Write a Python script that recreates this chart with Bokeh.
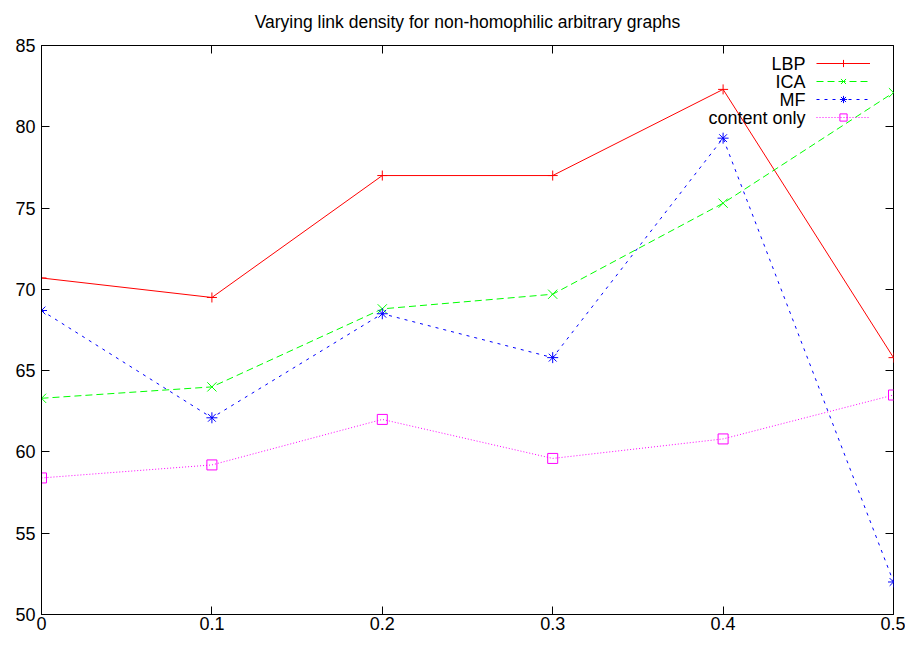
from bokeh.plotting import figure
from bokeh.models import (Range1d, LinearAxis, FixedTicker, Legend, LegendItem, Label,
                          CustomLabelingPolicy)
from bokeh.embed import file_html
from bokeh.resources import INLINE

# ---- data ----
densities = [0, 0.1, 0.2, 0.3, 0.4, 0.5]
lbp = [70.7, 69.5, 77.0, 77.0, 82.3, 65.8]
ica = [63.3, 64.0, 68.8, 69.7, 75.3, 82.1]
mf = [68.7, 62.1, 68.5, 65.8, 79.3, 52.0]
content_only = [58.4, 59.2, 62.0, 59.6, 60.8, 63.5]
series_names = ["LBP", "ICA", "MF", "content only"]
x_ticks = [0, 0.1, 0.2, 0.3, 0.4, 0.5]
x_tick_labels = ["0", "0.1", "0.2", "0.3", "0.4", "0.5"]
y_ticks = [50, 55, 60, 65, 70, 75, 80, 85]
title_text = "Varying link density for non-homophilic arbitrary graphs"

FONT = "Liberation Sans"
FS = "18px"
W, H = 905, 634
BL, BR, BT, BB = 41, 12, 44, 20
FW, FH = W - BL - BR, H - BT - BB
Y0, Y1 = 50, 85
X0, X1 = 0, 0.5

p = figure(width=W, height=H, x_range=Range1d(X0, X1), y_range=Range1d(Y0, Y1),
           output_backend="svg", toolbar_location=None,
           min_border_left=BL, min_border_right=BR, min_border_top=BT, min_border_bottom=BB,
           title=title_text)
p.title.align = "center"
p.title.text_font = FONT
p.title.text_font_size = "17.5px"
p.title.text_font_style = "normal"
p.title.text_color = "black"
p.title.standoff = 19

p.grid.visible = False
p.outline_line_color = "black"
p.outline_line_width = 1

for ax in (p.xaxis[0], p.yaxis[0]):
    ax.major_tick_in = 8
    ax.major_tick_out = 0
    ax.minor_tick_line_color = None
    ax.axis_line_color = "black"
    ax.major_tick_line_color = "black"
    ax.major_label_text_font = FONT
    ax.major_label_text_font_size = FS
    ax.major_label_text_color = "black"

p.xaxis.ticker = FixedTicker(ticks=x_ticks)
p.xaxis.major_label_overrides = {t: l for t, l in zip(x_ticks, x_tick_labels)}
p.xaxis.major_label_standoff = 2
p.yaxis.ticker = FixedTicker(ticks=y_ticks)
p.yaxis.major_label_standoff = 6

# mirrored ticks (top / right), no labels
mirror_kw = dict(major_tick_in=8, major_tick_out=0, minor_tick_line_color=None,
                 axis_line_color=None, major_label_standoff=0,
                 major_label_text_font_size="1px", axis_label_standoff=0,
                 axis_label_text_font_size="1px")
top_ax = LinearAxis(ticker=FixedTicker(ticks=x_ticks),
                    major_label_policy=CustomLabelingPolicy(code="return []"), **mirror_kw)
right_ax = LinearAxis(ticker=FixedTicker(ticks=y_ticks),
                      major_label_policy=CustomLabelingPolicy(code="return []"), **mirror_kw)
p.add_layout(top_ax, "above")
p.add_layout(right_ax, "right")

styles = [
    (lbp, "#ff0000", "solid", "cross", 10),
    (ica, "#00ff00", "7 4", "x", 13),
    (mf, "#0000ff", "3 5", "asterisk", 11),
    (content_only, "#ff00ff", "1 2", "square", 10),
]

items = []
for (vals, color, dash, marker, msize), name in zip(styles, series_names):
    lr = p.line(densities, vals, line_color=color, line_width=1, line_dash=dash)
    sr = p.scatter(densities, vals, marker=marker, size=msize, line_color=color,
                   fill_color=None, line_width=1)
    items.append(LegendItem(label="", renderers=[lr, sr]))

ROW = 18
LEG_TOP = 9.7  # px below frame top
GW = 54
LEG_X = FW - 77
legend = Legend(items=items, location=(LEG_X, FH - LEG_TOP - ROW * len(items)),
                glyph_width=GW, glyph_height=ROW, label_height=ROW, label_width=0,
                label_standoff=0, label_text_font_size="1px",
                spacing=0, padding=0, margin=0, border_line_color=None,
                background_fill_alpha=0)
p.add_layout(legend, "center")

# legend texts, right-aligned to the left of the samples
px_per_y = FH / (Y1 - Y0)
x_text = X0 + (LEG_X - 11) / FW * (X1 - X0)
for k, name in enumerate(series_names):
    yc = Y1 - (LEG_TOP + ROW / 2 + ROW * k) / px_per_y
    p.add_layout(Label(x=x_text, y=yc, text=name, text_align="right", text_baseline="middle",
                       text_font=FONT, text_font_size=FS, text_color="black"))

open("out.html", "w").write(file_html(p, INLINE))
